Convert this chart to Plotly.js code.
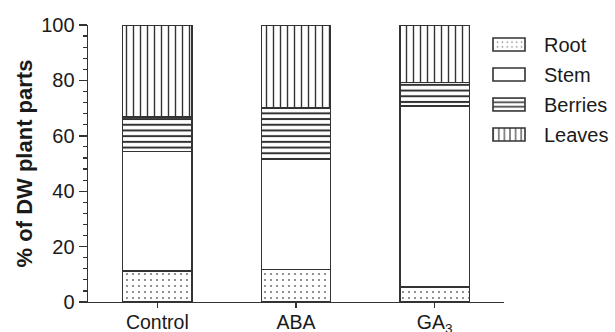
<!DOCTYPE html>
<html>
<head>
<meta charset="utf-8">
<script src="https://cdn.plot.ly/plotly-3.0.1.min.js"></script>
<style>
  html, body { margin: 0; padding: 0; background: #fff; }
  #chart { width: 615px; height: 332px; }
</style>
</head>
<body>
<div id="chart"></div>
<script>
// Treatments on the x axis
const treatments = ['Control', 'ABA', 'GA<sub>3</sub>'];

// Share of dry weight (%) per plant part, one value per treatment
const rootPct    = [11.1, 11.7, 5.5];
const stemPct    = [43.2, 40.0, 65.3];
const berriesPct = [12.4, 18.3, 8.5];
const leavesPct  = [33.3, 30.0, 20.7];

const yTickVals = [0, 20, 40, 60, 80, 100];

const outline = { color: '#333333', width: 1.6 };

function part(name, values, pattern) {
  return {
    type: 'bar',
    name: name,
    x: treatments,
    y: values,
    width: 0.5,
    legendgroup: name,
    marker: {
      color: '#ffffff',
      line: outline,
      pattern: pattern
    },
    hoverinfo: 'skip'
  };
}

const traces = [
  part('Root', rootPct, { shape: '.', fgcolor: '#666666', bgcolor: '#ffffff', size: 6, solidity: 0.08 }),
  part('Stem', stemPct, { shape: '' }),
  part('Berries', berriesPct, { shape: '-', fgcolor: '#333333', bgcolor: '#ffffff', size: 5.7, solidity: 0.35 }),
  part('Leaves', leavesPct, { shape: '|', fgcolor: '#333333', bgcolor: '#ffffff', size: 7, solidity: 0.2 })
];

const font = { family: 'Liberation Sans, Arial, sans-serif', color: '#1a1a1a' };

const layout = {
  width: 615,
  height: 332,
  margin: { l: 88, r: 111, t: 25, b: 30 },
  paper_bgcolor: '#ffffff',
  plot_bgcolor: '#ffffff',
  barmode: 'stack',
  font: Object.assign({ size: 20 }, font),
  xaxis: {
    type: 'category',
    range: [-0.5, 2.5],
    showline: true,
    linecolor: '#333333',
    linewidth: 1.4,
    ticks: 'outside',
    ticklen: 5,
    tickwidth: 1.4,
    tickcolor: '#333333',
    ticklabelstandoff: -3,
    showgrid: false,
    zeroline: false,
    tickfont: Object.assign({ size: 19.5 }, font)
  },
  yaxis: {
    range: [0, 100],
    tickvals: yTickVals,
    ticktext: yTickVals.map(String),
    showline: true,
    linecolor: '#333333',
    linewidth: 1.4,
    ticks: 'outside',
    ticklen: 8,
    tickwidth: 1.4,
    tickcolor: '#333333',
    showgrid: false,
    zeroline: false,
    tickfont: Object.assign({ size: 20 }, font),
    minor: { dtick: 4, ticks: 'outside', ticklen: 4, tickwidth: 1.2, tickcolor: '#333333', showgrid: false },
    title: {
      text: '<b>% of DW plant parts</b>',
      font: Object.assign({ size: 22 }, font),
      standoff: 2
    }
  },
  showlegend: true,
  legend: {
    xref: 'container',
    yref: 'container',
    x: 504 / 615,
    xanchor: 'left',
    y: 1 - 25 / 332,
    yanchor: 'top',
    traceorder: 'grouped',
    tracegroupgap: 1,
    font: Object.assign({ size: 20 }, font),
    bgcolor: 'rgba(0,0,0,0)'
  }
};

// Widen the legend swatches into flat rectangles sitting left of each label
function widenSwatches(gd) {
  gd.querySelectorAll('.legend .scrollbox, .legend').forEach(function (el) {
    el.removeAttribute('clip-path');
  });
  gd.querySelectorAll('.legend .traces').forEach(function (item) {
    const text = item.querySelector('text.legendtext');
    const path = item.querySelector('.legendpoints path');
    if (!text || !path) return;
    const textLeft = text.getBoundingClientRect().left;
    const m = path.getScreenCTM();
    const x0 = textLeft - 51 - m.e;
    const x1 = textLeft - 19 - m.e;
    path.setAttribute('d', 'M' + x1 + ',6.5H' + x0 + 'V-6.5H' + x1 + 'Z');
  });
}

Plotly.newPlot('chart', traces, layout, { staticPlot: true, displayModeBar: false })
  .then(widenSwatches);
</script>
</body>
</html>
